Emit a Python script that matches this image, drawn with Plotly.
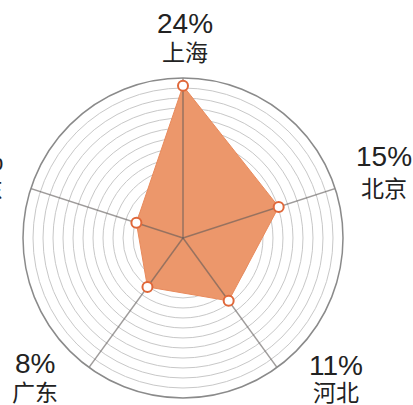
import plotly.graph_objects as go

categories = ["上海", "北京", "河北", "广东", "山东"]
values = [24, 15, 11, 8, 6]

# layout constants
W, H = 413, 405
R_MIN, R_MAX = -2.55, 25.36
RING_STEP = 1.745
label_pos = [  # (x_px, y_pct_px, y_name_px, anchor)
    (185, 23, 51, "center"),
    (384, 156, 187, "center"),
    (336, 365, 391, "center"),
    (35, 363, 391, "center"),
    (5, 160, 188, "right"),
]

fig = go.Figure()

theta_closed = categories + [categories[0]]
r_closed = values + [values[0]]

fig.add_trace(go.Scatterpolar(
    r=r_closed, theta=theta_closed, mode="lines",
    fill="toself", fillcolor="#ec976b",
    line=dict(color="#e88a5c", width=1), hoverinfo="skip",
))

# spokes drawn on top of fill
for c in categories:
    fig.add_trace(go.Scatterpolar(
        r=[R_MIN, R_MAX + 1.7], theta=[c, c], mode="lines",
        line=dict(color="rgba(95,90,88,0.6)", width=1.5),
        cliponaxis=False, hoverinfo="skip",
    ))

fig.add_trace(go.Scatterpolar(
    r=values, theta=categories, mode="markers",
    marker=dict(size=10, color="white", line=dict(color="#e0683a", width=2)),
    hoverinfo="skip",
))

ticks = [R_MAX - k * RING_STEP for k in range(1, 16)]

fig.update_layout(
    width=W, height=H, margin=dict(l=0, r=0, t=0, b=0),
    paper_bgcolor="white", showlegend=False,
    polar=dict(
        bgcolor="white",
        domain=dict(x=[23 / W, 343 / W], y=[(H - 398) / H, (H - 78) / H]),
        radialaxis=dict(range=[R_MIN, R_MAX], tickvals=ticks, showticklabels=False,
                        ticks="", showline=False, gridcolor="#c8c8c8", gridwidth=1),
        angularaxis=dict(categoryarray=categories, categoryorder="array",
                         direction="clockwise", rotation=90,
                         showticklabels=False, ticks="", showgrid=False,
                         showline=True, linecolor="#8a8a8a", linewidth=1.5),
    ),
)

for (x, yp, yn, anc), cat, v in zip(label_pos, categories, values):
    fig.add_annotation(x=x / W, y=1 - yp / H, xref="paper", yref="paper",
                       text=f"{v}%", showarrow=False, xanchor=anc, yanchor="middle",
                       font=dict(family="Liberation Sans", size=28, color="#222"))
    fig.add_annotation(x=x / W, y=1 - yn / H, xref="paper", yref="paper",
                       text=cat, showarrow=False, xanchor=anc, yanchor="middle",
                       font=dict(family="Noto Sans CJK SC", size=23, color="#222"))

fig.write_html("out.html")
